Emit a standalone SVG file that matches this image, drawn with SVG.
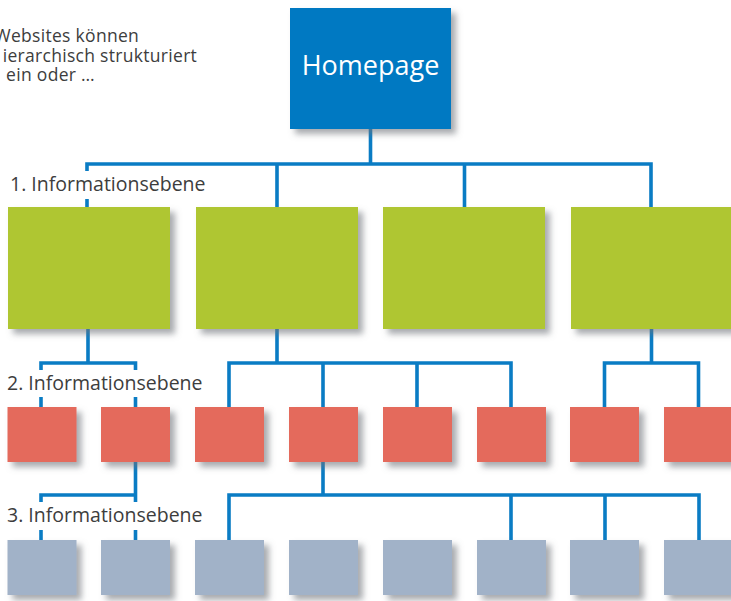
<svg xmlns="http://www.w3.org/2000/svg" width="731" height="601" viewBox="0 0 731 601">
  <defs>
    <filter id="shadow" x="-10%" y="-10%" width="130%" height="140%">
      <feDropShadow dx="5" dy="5" stdDeviation="3" flood-color="#6e7378" flood-opacity="0.6"/>
    </filter>
  </defs>
  <style>
    .home { fill: #0079c2; filter: url(#shadow); }
    .l1 { fill: #afc632; filter: url(#shadow); }
    .l2 { fill: #e46b5c; filter: url(#shadow); }
    .l3 { fill: #a1b2c8; filter: url(#shadow); }
    .conn { fill: none; stroke: #0a7cc4; stroke-width: 3.6; stroke-linecap: butt; stroke-linejoin: miter; }
    .lbl { font-family: "Open Sans", "Liberation Sans", sans-serif; font-size: 19.5px; fill: #3d3d3d; }
    .intro { font-family: "Open Sans", "Liberation Sans", sans-serif; font-size: 17.5px; letter-spacing: 0.3px; fill: #3d3d3d; }
    .hometext { font-family: "Open Sans", "Liberation Sans", sans-serif; font-size: 27px; fill: #ffffff; }
    .mask { fill: #ffffff; }
  </style>

  <g id="intro-text">
    <text class="intro" text-anchor="end">
      <tspan x="144" y="42">Websites können</tspan>
      <tspan x="202" y="62">ierarchisch strukturiert</tspan>
      <tspan x="95" y="81">ein oder …</tspan>
    </text>
  </g>

  <g id="connectors">
    <!-- Homepage to level 1 -->
    <path class="conn" d="M370.5,129 V164 M87,207 V164 H651 V207 M277,164 V207 M464.5,164 V207"/>
    <!-- Level 1 to level 2 -->
    <path class="conn" d="M88,329 V363 M41,407 V363 H135.5 V407"/>
    <path class="conn" d="M277,329 V363 M229,407 V363 H511 V407 M323,363 V407 M417,363 V407"/>
    <path class="conn" d="M651.5,329 V363 M604.5,407 V363 H698.5 V407"/>
    <!-- Level 2 to level 3 -->
    <path class="conn" d="M135.5,462 V495 M41,540 V495 H135.5 V540"/>
    <path class="conn" d="M323,462 V495 M229,540 V495 H699 V540 M511,495 V540 M605,495 V540"/>
  </g>

  <g id="labels">
    <rect class="mask" x="0" y="171" width="212" height="28"/>
    <text class="lbl" x="10" y="191">1. Informationsebene</text>
    <rect class="mask" x="0" y="370" width="212" height="27"/>
    <text class="lbl" x="7" y="390">2. Informationsebene</text>
    <rect class="mask" x="0" y="502" width="212" height="28"/>
    <text class="lbl" x="7" y="522">3. Informationsebene</text>
  </g>

  <g id="homepage">
    <rect class="home" x="290" y="8" width="161" height="121"/>
    <text class="hometext" x="370.5" y="75" text-anchor="middle">Homepage</text>
  </g>

  <g id="level1-1"><rect class="l1" x="8" y="207" width="162" height="122"/></g>
  <g id="level1-2"><rect class="l1" x="196" y="207" width="162" height="122"/></g>
  <g id="level1-3"><rect class="l1" x="383" y="207" width="162" height="122"/></g>
  <g id="level1-4"><rect class="l1" x="571" y="207" width="162" height="122"/></g>

  <g id="level2-1"><rect class="l2" x="7.5" y="407" width="69" height="55"/></g>
  <g id="level2-2"><rect class="l2" x="101" y="407" width="69" height="55"/></g>
  <g id="level2-3"><rect class="l2" x="195" y="407" width="69" height="55"/></g>
  <g id="level2-4"><rect class="l2" x="289" y="407" width="69" height="55"/></g>
  <g id="level2-5"><rect class="l2" x="383" y="407" width="69" height="55"/></g>
  <g id="level2-6"><rect class="l2" x="477" y="407" width="69" height="55"/></g>
  <g id="level2-7"><rect class="l2" x="570" y="407" width="69" height="55"/></g>
  <g id="level2-8"><rect class="l2" x="664" y="407" width="69" height="55"/></g>

  <g id="level3-1"><rect class="l3" x="7.5" y="540" width="69" height="55"/></g>
  <g id="level3-2"><rect class="l3" x="101" y="540" width="69" height="55"/></g>
  <g id="level3-3"><rect class="l3" x="195" y="540" width="69" height="55"/></g>
  <g id="level3-4"><rect class="l3" x="289" y="540" width="69" height="55"/></g>
  <g id="level3-5"><rect class="l3" x="383" y="540" width="69" height="55"/></g>
  <g id="level3-6"><rect class="l3" x="477" y="540" width="69" height="55"/></g>
  <g id="level3-7"><rect class="l3" x="570" y="540" width="69" height="55"/></g>
  <g id="level3-8"><rect class="l3" x="664" y="540" width="69" height="55"/></g>
</svg>
